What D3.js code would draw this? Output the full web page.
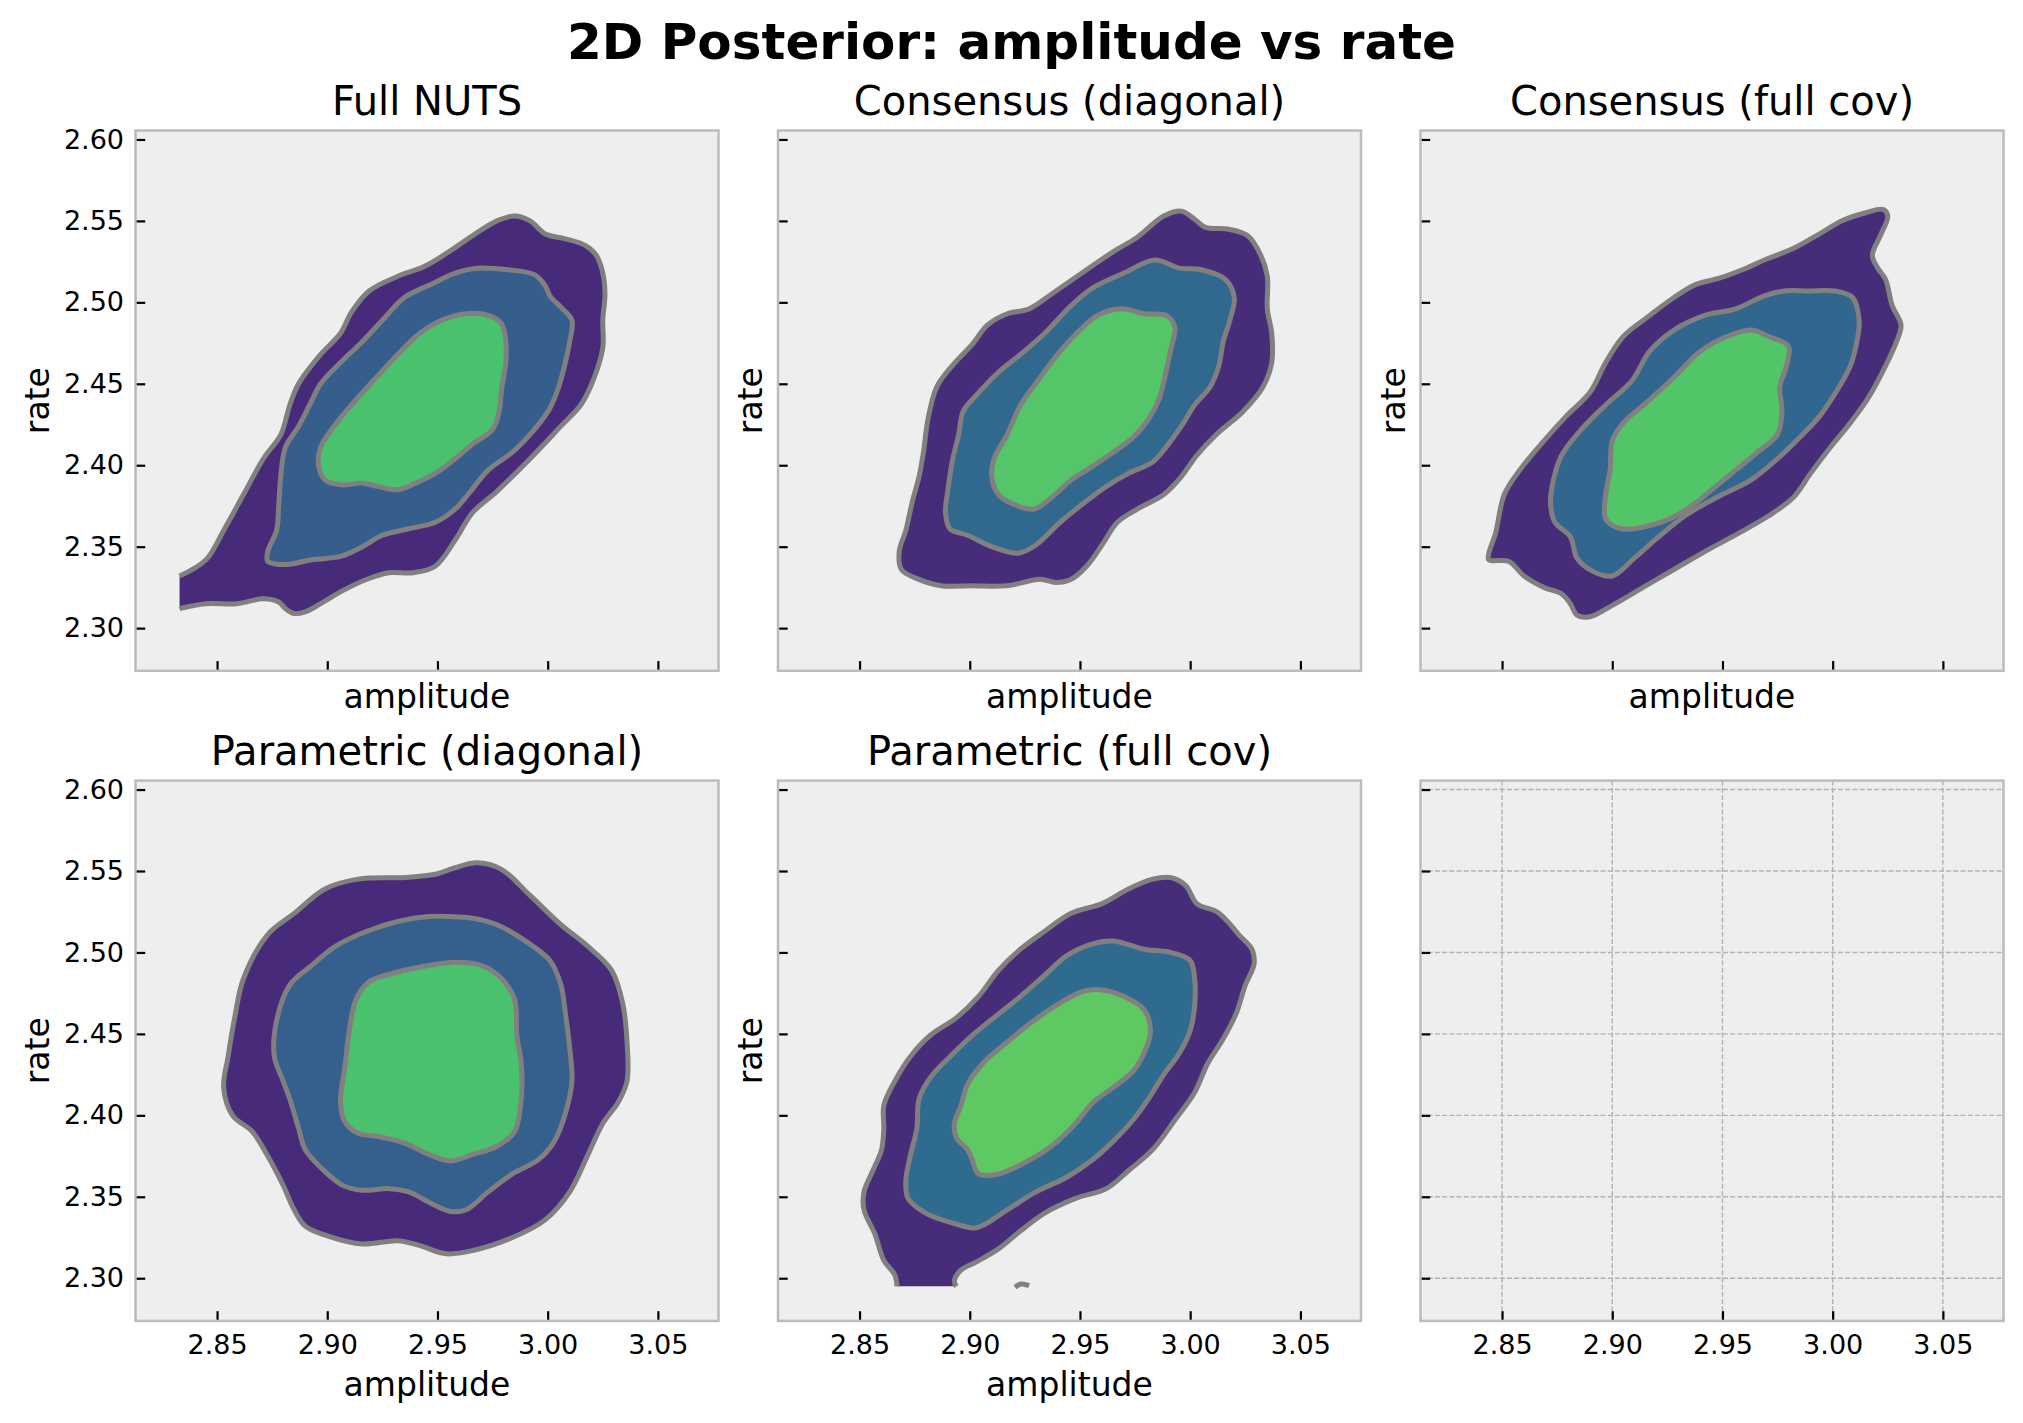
<!DOCTYPE html>
<html>
<head>
<meta charset="utf-8">
<script src="https://cdn.jsdelivr.net/npm/d3@7"></script>
<style>
  body { margin: 0; background: #fff; }
  svg { display: block; font-family: "DejaVu Sans", sans-serif; }
</style>
</head>
<body>
<div id="chart"></div>
<script>
// tick values of the shared axes
const ampTicks = [2.85, 2.90, 2.95, 3.00, 3.05];
const rateTicks = [2.30, 2.35, 2.40, 2.45, 2.50, 2.55, 2.60];

const panelTitles = ["Full NUTS", "Consensus (diagonal)", "Consensus (full cov)",
                     "Parametric (diagonal)", "Parametric (full cov)"];

// contour outlines, [amplitude, rate]
const fullNutsOuter = [[2.833,2.332],[2.845,2.342],[2.853,2.360],[2.862,2.382],[2.871,2.404],[2.879,2.419],[2.883,2.437],[2.887,2.450],[2.897,2.468],[2.906,2.481],[2.911,2.494],[2.919,2.507],[2.932,2.516],[2.944,2.522],[2.954,2.530],[2.966,2.541],[2.977,2.550],[2.985,2.553],[2.992,2.550],[2.999,2.542],[3.008,2.539],[3.017,2.535],[3.022,2.529],[3.025,2.518],[3.026,2.505],[3.025,2.489],[3.025,2.472],[3.020,2.450],[3.015,2.437],[3.006,2.424],[2.992,2.404],[2.977,2.384],[2.966,2.371],[2.958,2.354],[2.949,2.338],[2.939,2.334],[2.928,2.334],[2.918,2.330],[2.907,2.323],[2.897,2.315],[2.890,2.310],[2.885,2.309],[2.881,2.312],[2.878,2.316],[2.871,2.318],[2.859,2.315],[2.845,2.315],[2.833,2.312]];
const fullNutsMid = [[2.968,2.521],[2.982,2.520],[2.994,2.517],[2.999,2.510],[3.001,2.504],[3.006,2.497],[3.011,2.489],[3.010,2.476],[3.008,2.463],[3.005,2.448],[3.001,2.435],[2.994,2.422],[2.984,2.408],[2.973,2.397],[2.965,2.384],[2.958,2.373],[2.949,2.365],[2.937,2.361],[2.925,2.357],[2.916,2.350],[2.906,2.344],[2.893,2.342],[2.881,2.339],[2.873,2.341],[2.873,2.347],[2.877,2.360],[2.878,2.376],[2.879,2.395],[2.881,2.411],[2.887,2.424],[2.892,2.437],[2.897,2.450],[2.906,2.463],[2.916,2.476],[2.925,2.489],[2.935,2.503],[2.947,2.511],[2.958,2.518]];
const fullNutsInner = [[2.963,2.493],[2.973,2.492],[2.979,2.487],[2.981,2.476],[2.981,2.463],[2.979,2.446],[2.978,2.433],[2.975,2.422],[2.966,2.413],[2.958,2.404],[2.949,2.395],[2.940,2.389],[2.932,2.385],[2.923,2.387],[2.916,2.389],[2.906,2.388],[2.899,2.391],[2.896,2.400],[2.897,2.411],[2.902,2.422],[2.911,2.437],[2.921,2.452],[2.932,2.468],[2.942,2.481],[2.952,2.489]];

const consDiagOuter = [[2.996,2.556],[3.002,2.551],[3.007,2.546],[3.017,2.545],[3.026,2.541],[3.032,2.529],[3.035,2.516],[3.035,2.496],[3.037,2.481],[3.037,2.463],[3.033,2.448],[3.024,2.433],[3.012,2.419],[3.003,2.406],[2.996,2.393],[2.988,2.382],[2.976,2.373],[2.967,2.365],[2.960,2.351],[2.953,2.338],[2.946,2.330],[2.939,2.328],[2.932,2.330],[2.917,2.326],[2.901,2.326],[2.887,2.326],[2.875,2.331],[2.869,2.336],[2.868,2.347],[2.871,2.360],[2.874,2.378],[2.877,2.393],[2.879,2.408],[2.881,2.428],[2.885,2.448],[2.892,2.461],[2.901,2.474],[2.908,2.486],[2.917,2.493],[2.927,2.496],[2.937,2.505],[2.953,2.520],[2.965,2.531],[2.976,2.540],[2.988,2.553]];
const consDiagMid = [[2.984,2.526],[2.995,2.521],[3.005,2.520],[3.016,2.514],[3.020,2.503],[3.018,2.489],[3.015,2.476],[3.013,2.461],[3.009,2.448],[3.002,2.437],[2.996,2.424],[2.989,2.411],[2.983,2.402],[2.972,2.395],[2.962,2.387],[2.951,2.376],[2.941,2.365],[2.930,2.351],[2.922,2.346],[2.910,2.350],[2.899,2.357],[2.891,2.361],[2.889,2.371],[2.890,2.384],[2.892,2.402],[2.895,2.419],[2.897,2.433],[2.903,2.443],[2.913,2.457],[2.923,2.468],[2.934,2.481],[2.946,2.498],[2.956,2.509],[2.970,2.518]];
const consDiagInner = [[2.969,2.496],[2.979,2.493],[2.989,2.492],[2.993,2.485],[2.991,2.470],[2.989,2.457],[2.986,2.441],[2.981,2.428],[2.974,2.417],[2.963,2.406],[2.953,2.397],[2.946,2.391],[2.937,2.380],[2.929,2.373],[2.920,2.376],[2.913,2.382],[2.910,2.393],[2.911,2.404],[2.917,2.419],[2.923,2.437],[2.932,2.454],[2.941,2.470],[2.950,2.483],[2.958,2.492]];

const consFullOuter = [[3.023,2.557],[3.025,2.553],[3.022,2.542],[3.018,2.529],[3.020,2.522],[3.024,2.514],[3.027,2.498],[3.031,2.486],[3.029,2.476],[3.024,2.461],[3.016,2.441],[3.008,2.426],[2.999,2.411],[2.990,2.395],[2.982,2.380],[2.971,2.369],[2.957,2.358],[2.942,2.347],[2.928,2.336],[2.914,2.325],[2.900,2.314],[2.890,2.307],[2.884,2.308],[2.881,2.315],[2.877,2.321],[2.869,2.325],[2.860,2.332],[2.853,2.341],[2.844,2.342],[2.844,2.346],[2.847,2.358],[2.851,2.382],[2.858,2.397],[2.869,2.415],[2.879,2.430],[2.890,2.445],[2.897,2.463],[2.905,2.479],[2.917,2.492],[2.928,2.503],[2.938,2.511],[2.949,2.515],[2.959,2.520],[2.969,2.526],[2.982,2.533],[2.994,2.542],[3.004,2.550],[3.015,2.555]];
const consFullMid = [[2.989,2.507],[3.001,2.507],[3.009,2.503],[3.012,2.489],[3.011,2.476],[3.008,2.461],[3.002,2.446],[2.994,2.430],[2.985,2.417],[2.975,2.404],[2.963,2.391],[2.947,2.380],[2.933,2.369],[2.921,2.356],[2.910,2.343],[2.900,2.332],[2.891,2.335],[2.884,2.343],[2.881,2.356],[2.874,2.365],[2.872,2.376],[2.873,2.389],[2.877,2.406],[2.886,2.422],[2.897,2.437],[2.909,2.452],[2.917,2.470],[2.928,2.483],[2.942,2.492],[2.956,2.496],[2.969,2.504],[2.978,2.507]];
const consFullInner = [[2.963,2.483],[2.971,2.479],[2.980,2.473],[2.979,2.461],[2.976,2.448],[2.977,2.433],[2.975,2.419],[2.966,2.408],[2.956,2.397],[2.947,2.387],[2.937,2.376],[2.926,2.367],[2.914,2.362],[2.904,2.361],[2.897,2.367],[2.897,2.382],[2.899,2.397],[2.900,2.415],[2.905,2.426],[2.916,2.439],[2.928,2.454],[2.940,2.470],[2.952,2.479]];

const paramDiagOuter = [[2.968,2.555],[2.979,2.551],[2.992,2.535],[3.006,2.517],[3.018,2.504],[3.029,2.489],[3.034,2.469],[3.036,2.445],[3.036,2.421],[3.032,2.408],[3.025,2.395],[3.018,2.375],[3.010,2.353],[2.999,2.336],[2.984,2.325],[2.966,2.317],[2.954,2.315],[2.942,2.320],[2.932,2.323],[2.916,2.321],[2.900,2.326],[2.890,2.332],[2.885,2.342],[2.880,2.357],[2.873,2.375],[2.866,2.390],[2.857,2.400],[2.853,2.417],[2.855,2.436],[2.858,2.460],[2.862,2.484],[2.873,2.511],[2.885,2.524],[2.899,2.539],[2.914,2.545],[2.935,2.546],[2.949,2.548],[2.958,2.552]];
const paramDiagMid = [[2.956,2.522],[2.966,2.521],[2.977,2.517],[2.991,2.506],[3.001,2.495],[3.006,2.480],[3.008,2.463],[3.010,2.441],[3.011,2.421],[3.008,2.401],[3.003,2.384],[2.996,2.373],[2.984,2.364],[2.973,2.353],[2.963,2.342],[2.956,2.341],[2.947,2.346],[2.937,2.353],[2.928,2.355],[2.916,2.354],[2.907,2.357],[2.897,2.368],[2.890,2.379],[2.887,2.392],[2.883,2.410],[2.880,2.421],[2.876,2.436],[2.877,2.458],[2.883,2.480],[2.892,2.491],[2.904,2.504],[2.918,2.513],[2.932,2.519],[2.946,2.522]];
const paramDiagInner = [[2.958,2.494],[2.970,2.492],[2.979,2.484],[2.985,2.471],[2.986,2.449],[2.988,2.432],[2.988,2.410],[2.985,2.390],[2.977,2.381],[2.966,2.376],[2.956,2.372],[2.946,2.376],[2.935,2.383],[2.923,2.387],[2.914,2.389],[2.908,2.396],[2.906,2.408],[2.908,2.430],[2.910,2.452],[2.913,2.471],[2.919,2.482],[2.932,2.488],[2.946,2.492]];

const paramFullOuter = [[2.867,2.295],[2.866,2.302],[2.861,2.311],[2.857,2.327],[2.852,2.342],[2.852,2.353],[2.856,2.366],[2.860,2.379],[2.861,2.392],[2.861,2.406],[2.866,2.421],[2.873,2.436],[2.882,2.449],[2.894,2.460],[2.904,2.473],[2.913,2.489],[2.923,2.502],[2.934,2.513],[2.946,2.524],[2.960,2.530],[2.972,2.539],[2.983,2.545],[2.991,2.546],[2.998,2.541],[3.003,2.530],[3.012,2.525],[3.017,2.519],[3.022,2.511],[3.028,2.502],[3.029,2.493],[3.025,2.480],[3.021,2.463],[3.015,2.447],[3.008,2.432],[3.002,2.414],[2.993,2.397],[2.983,2.379],[2.972,2.366],[2.962,2.355],[2.948,2.349],[2.934,2.340],[2.923,2.329],[2.913,2.318],[2.903,2.310],[2.896,2.305],[2.893,2.298],[2.894,2.295]];
const paramFullMid = [[2.965,2.507],[2.979,2.502],[2.991,2.500],[3.000,2.495],[3.002,2.484],[3.002,2.467],[3.000,2.452],[2.995,2.438],[2.988,2.425],[2.981,2.410],[2.974,2.397],[2.965,2.384],[2.956,2.373],[2.944,2.362],[2.930,2.353],[2.917,2.342],[2.903,2.331],[2.892,2.334],[2.880,2.340],[2.872,2.349],[2.871,2.360],[2.873,2.375],[2.876,2.392],[2.877,2.410],[2.882,2.423],[2.891,2.436],[2.901,2.449],[2.911,2.460],[2.923,2.473],[2.934,2.486],[2.944,2.498],[2.955,2.505]];
const paramFullInner = [[2.960,2.477],[2.970,2.473],[2.979,2.465],[2.982,2.452],[2.979,2.438],[2.974,2.427],[2.965,2.417],[2.956,2.408],[2.948,2.395],[2.937,2.381],[2.925,2.371],[2.913,2.364],[2.904,2.364],[2.901,2.373],[2.899,2.379],[2.894,2.386],[2.893,2.395],[2.896,2.406],[2.899,2.419],[2.906,2.432],[2.917,2.445],[2.929,2.458],[2.941,2.469],[2.951,2.476]];
const paramFullSpeck = [[2.9205,2.2945],[2.9234,2.2964],[2.9269,2.2954]];

// fill colours per panel (outer, middle, inner)
const levelColors = [
  ["#472a7a", "#365e8c", "#4ac16d"],
  ["#472c7a", "#31688e", "#54c568"],
  ["#472c7a", "#31668e", "#52c569"],
  ["#472a7a", "#355f8d", "#4ac16d"],
  ["#472c7a", "#2f6b8e", "#5ec962"]
];

const panels = [
  { title: panelTitles[0], row: 0, col: 0, levels: [fullNutsOuter, fullNutsMid, fullNutsInner], openOuter: true },
  { title: panelTitles[1], row: 0, col: 1, levels: [consDiagOuter, consDiagMid, consDiagInner] },
  { title: panelTitles[2], row: 0, col: 2, levels: [consFullOuter, consFullMid, consFullInner] },
  { title: panelTitles[3], row: 1, col: 0, levels: [paramDiagOuter, paramDiagMid, paramDiagInner] },
  { title: panelTitles[4], row: 1, col: 1, levels: [paramFullOuter, paramFullMid, paramFullInner], openOuter: true, extra: paramFullSpeck },
  { title: null, row: 1, col: 2, levels: [], empty: true }
];

const W = 2023, H = 1423;
const colX = [135.5, 778, 1420.5], rowY = [130.5, 780.6];
const pw = 583, ph = 540.3;

const svg = d3.select("#chart").append("svg")
  .attr("width", W).attr("height", H);

svg.append("text")
  .attr("x", W / 2).attr("y", 58.5)
  .attr("text-anchor", "middle")
  .style("font-size", "50px").style("font-weight", "bold")
  .text("2D Posterior: amplitude vs rate");

const x = d3.scaleLinear().domain([2.8130, 3.0775]).range([0, pw]);
const y = d3.scaleLinear().domain([2.2738, 2.6055]).range([ph, 0]);

const closedLine = d3.line().x(d => x(d[0])).y(d => y(d[1])).curve(d3.curveCatmullRomClosed.alpha(0.5));
const openLine = d3.line().x(d => x(d[0])).y(d => y(d[1])).curve(d3.curveCatmullRom.alpha(0.5));

panels.forEach((p, i) => {
  const g = svg.append("g").attr("transform", `translate(${colX[p.col]},${rowY[p.row]})`);

  g.append("rect").attr("width", pw).attr("height", ph).attr("fill", "#eeeeee");

  // grid only on the empty axes
  if (p.empty) {
    g.selectAll(".gx").data(ampTicks).enter().append("line")
      .attr("x1", d => x(d)).attr("x2", d => x(d)).attr("y1", 0).attr("y2", ph)
      .attr("stroke", "#b2b2b2").attr("stroke-width", 1.4).attr("stroke-dasharray", "5,2.2");
    g.selectAll(".gy").data(rateTicks).enter().append("line")
      .attr("y1", d => y(d)).attr("y2", d => y(d)).attr("x1", 0).attr("x2", pw)
      .attr("stroke", "#b2b2b2").attr("stroke-width", 1.4).attr("stroke-dasharray", "5,2.2");
  }

  // filled regions, then the grey outlines
  p.levels.forEach((pts, k) => {
    const open = k === 0 && p.openOuter;
    g.append("path")
      .attr("d", open ? openLine(pts) + "Z" : closedLine(pts))
      .attr("fill", levelColors[i][k]);
  });
  p.levels.forEach((pts, k) => {
    const open = k === 0 && p.openOuter;
    g.append("path")
      .attr("d", open ? openLine(pts) : closedLine(pts))
      .attr("fill", "none").attr("stroke", "#808080").attr("stroke-width", 5)
      .attr("stroke-linejoin", "round");
  });
  if (p.extra) {
    g.append("path").attr("d", openLine(p.extra))
      .attr("fill", "none").attr("stroke", "#808080").attr("stroke-width", 5);
  }

  // axes with inward ticks
  const xAxis = d3.axisBottom(x).tickValues(ampTicks).tickSize(-9.7).tickPadding(14)
    .tickFormat(p.row === 1 ? d3.format(".2f") : "");
  const gx = g.append("g").attr("transform", `translate(0,${ph})`).call(xAxis);
  const yAxis = d3.axisLeft(y).tickValues(rateTicks).tickSize(-9.7).tickPadding(11.5)
    .tickFormat(p.col === 0 ? d3.format(".2f") : "");
  const gy = g.append("g").call(yAxis);
  [gx, gy].forEach(a => {
    a.select(".domain").remove();
    a.selectAll(".tick line").attr("stroke", "#000").attr("stroke-width", 2.2);
    a.selectAll(".tick text").attr("fill", "#000")
      .style("font-size", "27px").style("font-family", "DejaVu Sans");
  });

  g.append("rect").attr("width", pw).attr("height", ph)
    .attr("fill", "none").attr("stroke", "#bcbcbc").attr("stroke-width", 2.5);

  if (p.title) {
    g.append("text").attr("x", pw / 2).attr("y", -15.5)
      .attr("text-anchor", "middle").style("font-size", "40px")
      .text(p.title);
  }
  if (!p.empty) {
    g.append("text").attr("x", pw / 2).attr("y", p.row === 1 ? ph + 75 : ph + 37)
      .attr("text-anchor", "middle").style("font-size", "33px")
      .text("amplitude");
    g.append("text")
      .attr("transform", `translate(${p.col === 0 ? -87 : -16},${ph / 2}) rotate(-90)`)
      .attr("text-anchor", "middle").style("font-size", "33px")
      .text("rate");
  }
});
</script>
</body>
</html>
